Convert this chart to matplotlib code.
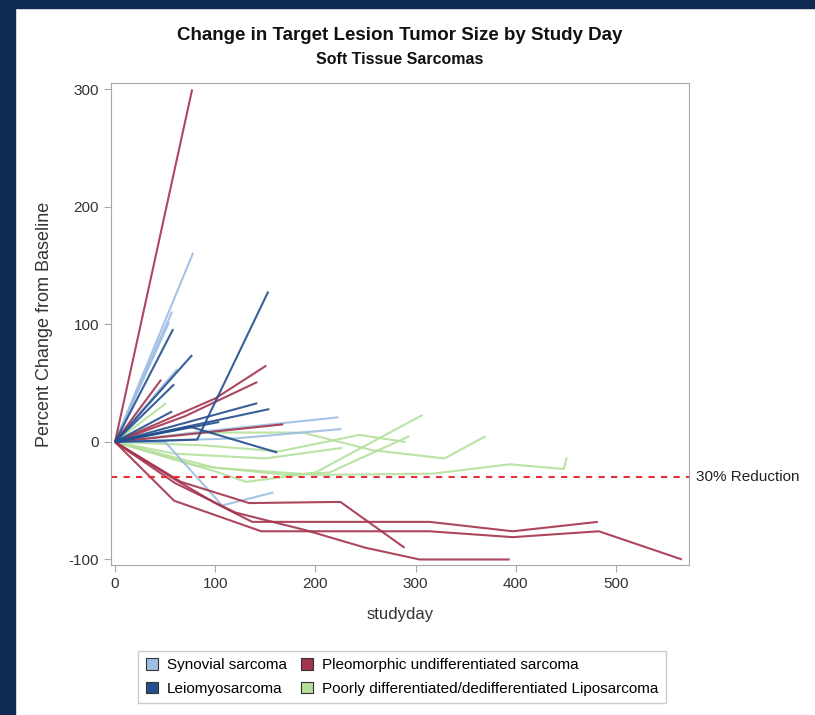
import matplotlib
matplotlib.use("Agg")
import matplotlib.pyplot as plt
from matplotlib.patches import Patch, Rectangle

plt.rcParams['font.family'] = ['Liberation Sans', 'DejaVu Sans']
plt.rcParams['axes.unicode_minus'] = False

# study day / percent change per patient, grouped by histology
synovial_days = [[0, 78], [0, 57], [0, 54], [0, 62], [0, 100, 223], [0, 120, 226],
                 [0, 50, 107, 158]]
synovial_pct = [[0, 161], [0, 111], [0, 102], [0, 62], [0, 10, 21], [0, 3, 11],
                [0, 0, -54, -43]]

leio_days = [[0, 82, 153], [0, 58], [0, 77], [0, 59], [0, 57], [0, 142], [0, 154],
             [0, 75, 162], [0, 104]]
leio_pct = [[0, 2, 128], [0, 96], [0, 74], [0, 49], [0, 26], [0, 33], [0, 28],
            [0, 13, -9], [0, 17]]

pleo_days = [[0, 77], [0, 46], [0, 100, 151], [0, 70, 142], [0, 168],
             [0, 59, 146, 314, 397, 483, 566],
             [0, 60, 100, 137, 314, 397, 482],
             [0, 66, 134, 225, 289],
             [0, 60, 120, 190, 250, 304, 394]]
pleo_pct = [[0, 300], [0, 53], [0, 37, 65], [0, 22, 51], [0, 15],
            [0, -50, -76, -76, -81, -76, -100],
            [0, -32, -52, -68, -68, -76, -68],
            [0, -34, -52, -51, -90],
            [0, -35, -60, -75, -90, -100, -100]]

lipo_days = [[0, 51], [0, 80, 187, 257, 329, 370], [0, 90, 164, 244, 290],
             [0, 60, 150, 227], [0, 80, 170, 214, 294], [0, 100, 131, 200, 307],
             [0, 100, 200, 317, 394, 448, 451]]
lipo_pct = [[0, 33], [0, 8, 8, -7, -14, 5], [0, -3, -8, 6, 0],
            [0, -10, -14, -5], [0, -20, -28, -26, 5], [0, -25, -34, -26, 23],
            [0, -22, -28, -27, -19, -23, -13]]

groups = ["Synovial sarcoma", "Leiomyosarcoma",
          "Pleomorphic undifferentiated sarcoma",
          "Poorly differentiated/dedifferentiated Liposarcoma"]
colors = ["#9dbde3", "#234f8e", "#a4334d", "#b5e09c"]
reduction = -30

fig = plt.figure(figsize=(8.15, 7.15), dpi=100)
fig.patches.append(Rectangle((0, 0), 15/815, 1, transform=fig.transFigure,
                             color="#0f2a52", zorder=0))
fig.patches.append(Rectangle((0, 1 - 8/715), 1, 8/715, transform=fig.transFigure,
                             color="#0f2a52", zorder=0))

ax = fig.add_axes([111/815, 1 - 565/715, 578/815, 482/715])

data = [(synovial_days, synovial_pct), (leio_days, leio_pct),
        (pleo_days, pleo_pct), (lipo_days, lipo_pct)]
order = [3, 0, 2, 1]
for i in order:
    d, p = data[i]
    for xs, ys in zip(d, p):
        ax.plot(xs, ys, color=colors[i], lw=1.5, alpha=0.9, solid_capstyle='butt')

ax.axhline(reduction, color="#e8303c", lw=1.5, ls=(0, (3, 3)))
ax.text(1.012, (reduction + 104.7) / 410.2, "30% Reduction", transform=ax.transAxes,
        va='center', ha='left', fontsize=11, color="#222222")

ax.set_xlim(-4, 573)
ax.set_ylim(-104.7, 305.5)
ax.set_xticks([0, 100, 200, 300, 400, 500])
ax.set_yticks([-100, 0, 100, 200, 300])
for s in ax.spines.values():
    s.set_color("#a8a8a8")
ax.tick_params(colors="#a8a8a8", labelcolor="#333333", labelsize=11, length=5)
ax.set_xlabel("studyday", fontsize=12, color="#333333", labelpad=12)
ax.set_ylabel("Percent Change from Baseline", fontsize=13, color="#333333", labelpad=11)

fig.text(400/815, 1 - 35/715, "Change in Target Lesion Tumor Size by Study Day",
         ha='center', va='center', fontsize=13.5, fontweight='bold', color="#111111")
fig.text(400/815, 1 - 59/715, "Soft Tissue Sarcomas",
         ha='center', va='center', fontsize=11.5, fontweight='bold', color="#111111")

handles = [Patch(facecolor=c, edgecolor="#333333", lw=0.8) for c in colors]
fig.legend(handles, groups, loc='center', bbox_to_anchor=(402/815, 1 - 677/715),
           ncol=2, fontsize=11, frameon=True, edgecolor="#c0c0c0", fancybox=False,
           handlelength=0.8, handleheight=0.8, handletextpad=0.6, columnspacing=0.9,
           labelspacing=0.6, borderpad=0.5)

fig.savefig("out.png", dpi=100)
